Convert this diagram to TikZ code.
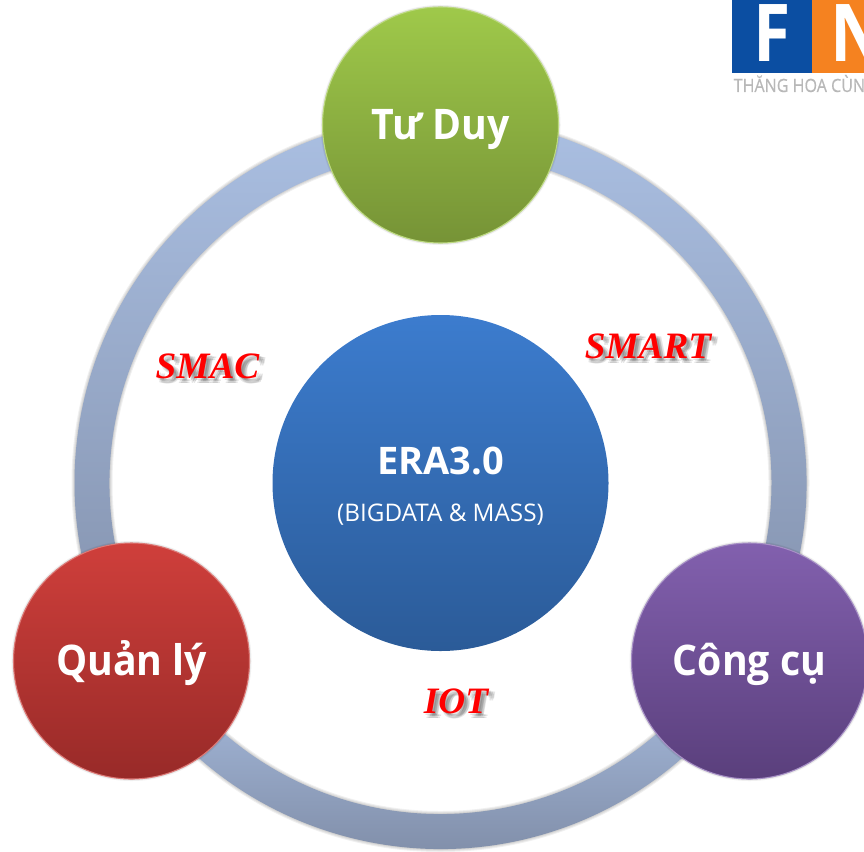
\documentclass[tikz,border=0pt]{standalone}
\usepackage{fontspec}
\setmainfont{Open Sans}
\newfontfamily\labelfont{Liberation Serif}
\newfontfamily\ballfont[FakeStretch=0.93]{Open Sans}
\newfontfamily\logofont[FakeStretch=0.85]{Open Sans}
\newfontfamily\logotextfont[FakeStretch=0.88,FakeBold=0.4]{Open Sans}
\usetikzlibrary{positioning, calc}
\definecolor{RingTop}{HTML}{AABFE2}
\definecolor{RingBottom}{HTML}{8290AB}
\definecolor{GreenTop}{HTML}{9FC94A}
\definecolor{GreenBottom}{HTML}{769336}
\definecolor{RedTop}{HTML}{CF3F3B}
\definecolor{RedBottom}{HTML}{982A28}
\definecolor{PurpleTop}{HTML}{8260AE}
\definecolor{PurpleBottom}{HTML}{5A3F7C}
\definecolor{BlueTop}{HTML}{3C7CCE}
\definecolor{BlueBottom}{HTML}{2B5B98}
\definecolor{LogoBlue}{HTML}{0B4EA2}
\definecolor{LogoOrange}{HTML}{F58220}
\tikzset{
  ballnode/.style={circle, minimum size=2.36cm, inner sep=0pt, text=white, align=center,
    font=\ballfont\fontsize{12}{14}\selectfont\bfseries},
  tagnode/.style={text=red, inner sep=0pt, font=\labelfont\fontsize{10.6}{12}\selectfont\bfseries\itshape},
  tagshade/.style={text=black, opacity=0.10, inner sep=0pt, font=\labelfont\fontsize{10.6}{12}\selectfont\bfseries\itshape},
  softshade/.style={black, opacity=0.06}
}
\newcommand{\tagtext}[3]{%
  \foreach \dx/\dy in {0.02/-0.02,0.04/-0.03,0.05/-0.05,0.03/-0.05,0.06/-0.03}
    \node[tagshade] at ($(#1)+(\dx,\dy)$) {#3};
  \node[tagnode] (#2) at (#1) {#3};
}
\newcommand{\ringpiece}[4]{%
  \begin{scope}
    \clip ($(hub)+(#1:\RingOuter)$) arc (#1:#2:\RingOuter)
      -- ($(hub)+(#2:\RingInner)$) arc (#2:#1:\RingInner) -- cycle;
    \shade[top color=RingTop, bottom color=RingBottom] (0,#3) rectangle (8.64,#4);
  \end{scope}
}
\newcommand{\balltext}[1]{\raisebox{-0.145cm}[0pt][0pt]{#1}}
\begin{document}
\begin{tikzpicture}
  % --- GEOMETRIC VARIABLES ---
  \def\RingOuter{3.66}
  \def\RingInner{3.31}
  \useasboundingbox (0,0) rectangle (8.64,8.51);
  \clip (0,0) rectangle (8.64,8.51);
  \fill[white] (0,0) rectangle (8.64,8.51);

  \coordinate (hub) at (4.405,3.68);
  \coordinate (toppos) at (4.405,7.26);
  \coordinate (leftpos) at (1.315,1.90);
  \coordinate (rightpos) at (7.495,1.90);

  % 1. RING
  % Soft shadow
  \foreach \w in {0.03,0.02,0.01,0}
    \fill[softshade, even odd rule, yshift=-0.03cm]
      (hub) circle ({\RingOuter+\w}) (hub) circle ({\RingInner-\w});
  % Three arcs, each with its own gradient
  \ringpiece{90}{210}{1.85}{7.34}
  \ringpiece{-30}{90}{1.85}{7.34}
  \ringpiece{210}{330}{0.02}{1.85}

  % 2. BALLS
  \foreach \pos in {toppos,leftpos,rightpos}
    \foreach \w in {1.20,1.19,1.18}
      \fill[softshade, yshift=-0.02cm] (\pos) circle (\w);
  \node[ballnode, top color=GreenTop, bottom color=GreenBottom, draw=GreenTop!70!white, line width=0.3pt]
    (tuduy) at (toppos) {\balltext{Tư Duy}};
  \node[ballnode, top color=RedTop, bottom color=RedBottom, draw=RedTop!70!white, line width=0.3pt]
    (quanly) at (leftpos) {\balltext{Quản lý}};
  \node[ballnode, top color=PurpleTop, bottom color=PurpleBottom, draw=PurpleTop!70!white, line width=0.3pt]
    (congcu) at (rightpos) {\balltext{Công cụ}};
  \node[circle, minimum size=3.36cm, inner sep=0pt, top color=BlueTop, bottom color=BlueBottom]
    (era) at (hub) {};
  \node[text=white, inner sep=0pt, font=\fontsize{10.8}{12}\selectfont\bfseries] (eratitle) at (4.405,3.90) {ERA3.0};
  \node[text=white, inner sep=0pt, font=\fontsize{6.9}{8}\selectfont] (erasub) at (4.405,3.36) {(BIGDATA \& MASS)};

  % 3. TAGS
  \coordinate (smacpos) at (2.075,4.85);
  \coordinate (smartpos) at (6.48,5.05);
  \coordinate (iotpos) at (4.56,1.50);
  \tagtext{smacpos}{smac}{SMAC}
  \tagtext{smartpos}{smart}{SMART}
  \tagtext{iotpos}{iot}{IOT}

  % 4. LOGO
  \fill[LogoBlue] (7.32,7.78) rectangle (8.12,8.51);
  \fill[LogoOrange] (8.12,7.78) rectangle (8.64,8.51);
  \node[text=white, anchor=base, inner sep=0pt, font=\logofont\fontsize{22.7}{24}\selectfont\bfseries] (logof) at (7.72,7.89) {F};
  \node[text=white, anchor=base west, inner sep=0pt, font=\logofont\fontsize{22.7}{24}\selectfont\bfseries] (logon) at (8.20,7.89) {\hspace{0.1cm}N};
  \node[text=black!28, anchor=base west, inner sep=0pt, font=\logotextfont\fontsize{5.2}{6}\selectfont] (logotext) at (7.33,7.59) {THĂNG HOA CÙNG};
\end{tikzpicture}
\end{document}
